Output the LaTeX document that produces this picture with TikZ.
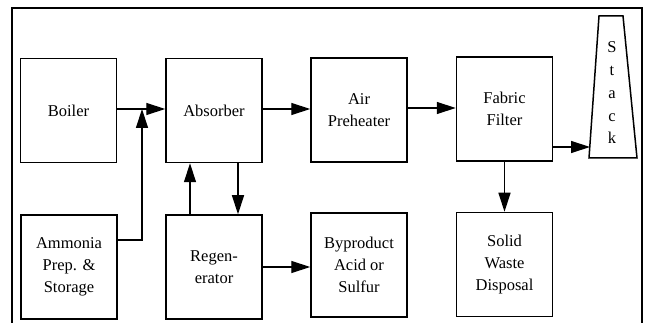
\documentclass[tikz,border=0pt]{standalone}
\usepackage{fontspec}
\setmainfont{Liberation Serif}
\usetikzlibrary{arrows.meta}
\begin{document}
\begin{tikzpicture}[x=1pt,y=-1pt,
  box/.style={draw,line width=1.5pt,minimum width=96pt,minimum height=104pt,
    inner sep=0pt,align=center,font=\fontsize{16.5}{22}\selectfont},
  arr/.style={line width=1.3pt,-{Triangle[length=19pt,width=12pt]}}]
\useasboundingbox (0,0) rectangle (645,323);
\draw[line width=1.1pt] (12,323) -- (12,8) -- (642,8) -- (642,323);
\node[box] (boiler) at (68.5,110.5) {Boiler};
\node[box] (absorber) at (214,110.5) {Absorber};
\node[box] (air) at (359,110) {Air\\Preheater};
\node[box] (fabric) at (504.5,109) {Fabric\\Filter};
\node[box] (ammonia) at (69,267) {Ammonia\\Prep. \&\\Storage};
\node[box] (regen) at (214,267) {Regen-\\erator};
\node[box] (byprod) at (359,265) {Byproduct\\Acid or\\Sulfur};
\node[box] (solid) at (504.5,264.5) {Solid\\Waste\\Disposal};
% stack
\draw[line width=1.5pt] (599,16) -- (623,16) -- (637,158) -- (589,158) -- cycle;
\node[align=center,font=\fontsize{16.5}{22.75}\selectfont,inner sep=0pt] (stack) at (612,93) {S\\t\\a\\c\\k};
\coordinate (stackin) at (590,147);
\coordinate (jn) at (142,109);
% connectors
\draw[arr] (boiler.east |- 0,109) -- (absorber.west |- 0,109);
\draw[arr] ([yshift=27pt]ammonia.east) -| (jn);
\draw[arr] (absorber.east |- 0,109) -- (air.west |- 0,109);
\draw[arr] (air.east |- 0,108) -- (fabric.west |- 0,108);
\draw[arr] (fabric.east |- stackin) -- (stackin);
\draw[arr] ([xshift=-24pt]regen.north) -- ([xshift=-24pt]absorber.south);
\draw[arr] ([xshift=24pt]absorber.south) -- ([xshift=24pt]regen.north);
\draw[arr] (regen.east |- 0,267) -- (byprod.west |- 0,267);
\draw[arr] (fabric.south) -- (solid.north);
\end{tikzpicture}
\end{document}
